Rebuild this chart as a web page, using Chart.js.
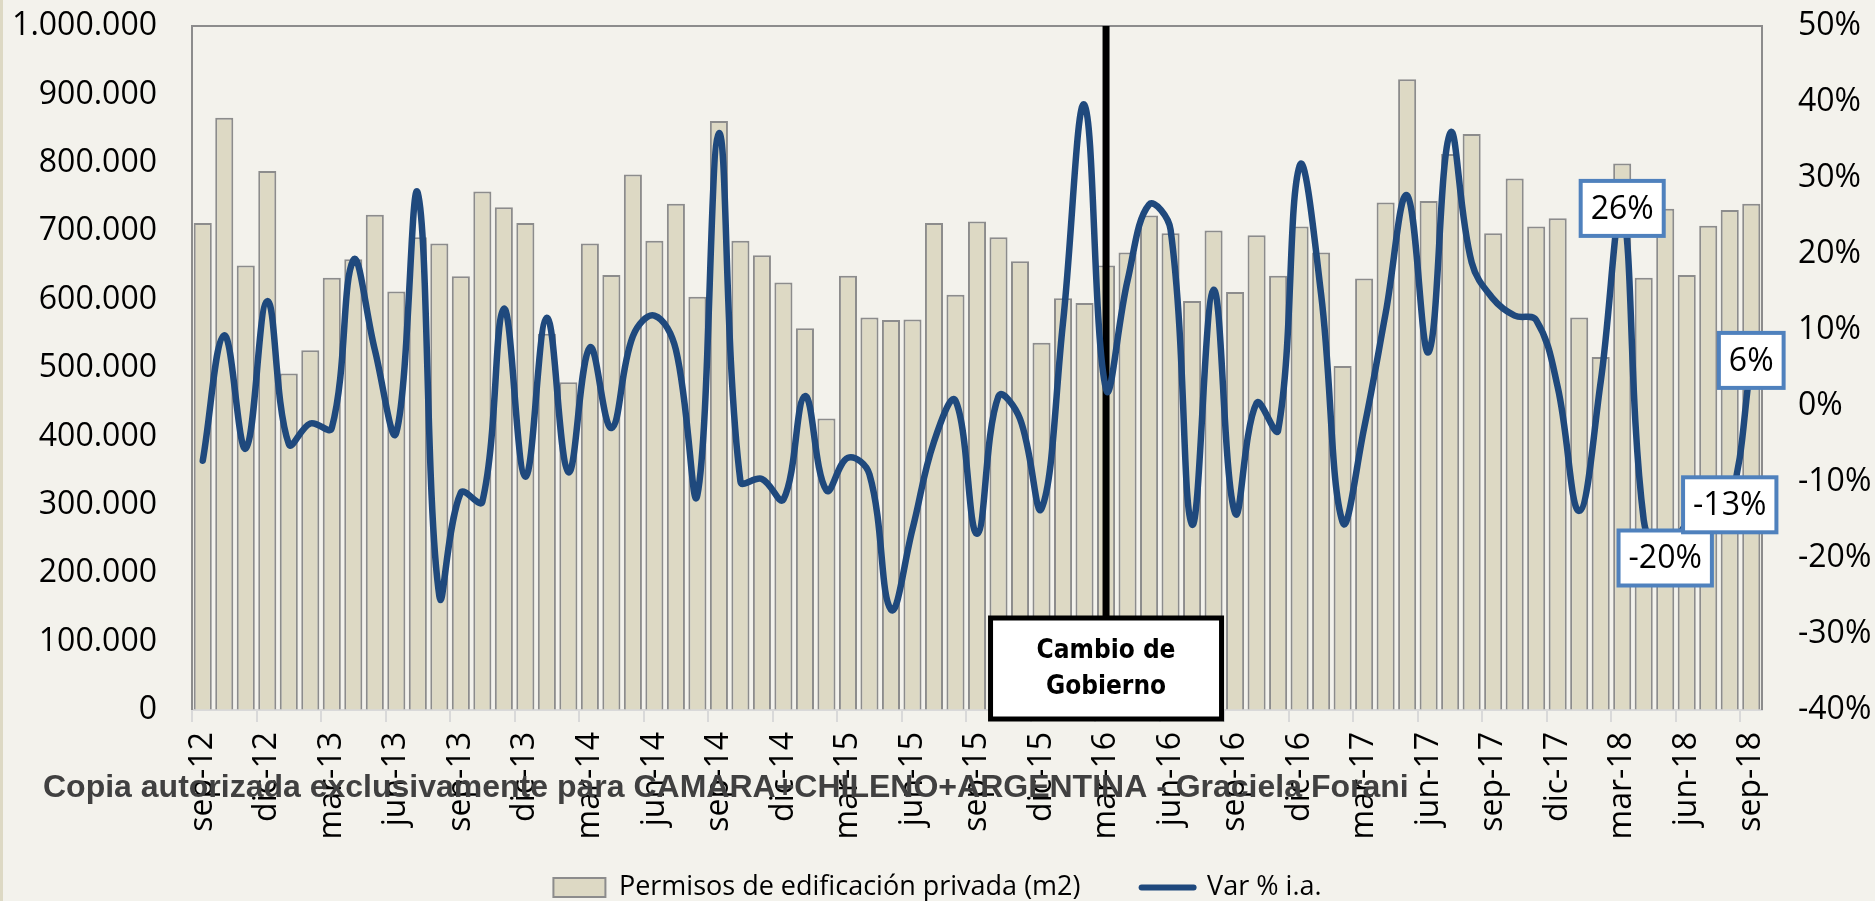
<!DOCTYPE html>
<html>
<head>
<meta charset="utf-8">
<script src="https://cdn.jsdelivr.net/npm/chart.js@4.4.0/dist/chart.umd.min.js"></script>
<style>
  html, body { margin: 0; padding: 0; background: #f3f2ec; }
</style>
</head>
<body>
<canvas id="myChart" width="1875" height="901"></canvas>
<script>
const meses = [
    'sep-12', 'oct-12', 'nov-12', 'dic-12', 'ene-13', 'feb-13', 'mar-13', 'abr-13', 'may-13', 'jun-13', 'jul-13', 'ago-13',
    'sep-13', 'oct-13', 'nov-13', 'dic-13', 'ene-14', 'feb-14', 'mar-14', 'abr-14', 'may-14', 'jun-14', 'jul-14', 'ago-14',
    'sep-14', 'oct-14', 'nov-14', 'dic-14', 'ene-15', 'feb-15', 'mar-15', 'abr-15', 'may-15', 'jun-15', 'jul-15', 'ago-15',
    'sep-15', 'oct-15', 'nov-15', 'dic-15', 'ene-16', 'feb-16', 'mar-16', 'abr-16', 'may-16', 'jun-16', 'jul-16', 'ago-16',
    'sep-16', 'oct-16', 'nov-16', 'dic-16', 'ene-17', 'feb-17', 'mar-17', 'abr-17', 'may-17', 'jun-17', 'jul-17', 'ago-17',
    'sep-17', 'oct-17', 'nov-17', 'dic-17', 'ene-18', 'feb-18', 'mar-18', 'abr-18', 'may-18', 'jun-18', 'jul-18', 'ago-18',
    'sep-18'
]

// permisos de edificacion privada, m2
const permisos = [
    712000, 866000, 650000, 788000, 492000, 526000, 632000, 659000, 724000, 612000, 691000, 682000,
    634000, 758000, 735000, 712000, 550000, 479000, 682000, 636000, 783000, 686000, 740000, 604000,
    861000, 686000, 665000, 625000, 558000, 426000, 635000, 574000, 570000, 571000, 712000, 607000,
    714000, 691000, 656000, 537000, 602000, 595000, 650000, 669000, 723000, 697000, 598000, 701000,
    611000, 694000, 635000, 707000, 669000, 503000, 631000, 742000, 922000, 744000, 813000, 842000,
    697000, 777000, 707000, 719000, 574000, 516000, 799000, 632000, 733000, 636000, 708000, 731000,
    740000
]

// var % interanual
const varIA = [
    -7.2, 9.3, -5.6, 13.8, -5.0, -2.3, -2.9, 19.2, 7.4, -3.5, 28.0, -25.0,
    -11.4, -12.6, 12.8, -9.3, 11.6, -8.7, 7.7, -2.9, 9.2, 11.9, 7.4, -11.7,
    35.9, -9.9, -9.6, -12.3, 1.3, -11.1, -6.8, -9.0, -26.8, -16.2, -4.7, 0.7,
    -16.8, 1.3, -1.7, -13.5, 11.0, 39.6, 2.2, 16.5, 26.5, 23.2, -15.6, 15.3,
    -14.1, 0.4, -3.2, 31.6, 14.7, -15.3, -2.9, 12.2, 27.7, 7.1, 35.9, 18.9,
    14.1, 11.9, 11.3, 2.5, -13.8, 3.2, 26.0, -15.0, -20.0, -15.5, -14.5, -13.0,
    6.0
]

// puntos con etiqueta de dato
const etiquetas = [66, 68, 71, 72]
const cambioIdx = 42
const cambioTexto = ['Cambio de', 'Gobierno']
const marcaAgua = 'Copia autorizada exclusivamente para CAMARA+CHILENO+ARGENTINA - Graciela Forani'

const fuente = '"Open Sans", "DejaVu Sans", sans-serif'

function miles(v) {
    return String(v).replace(/\B(?=(\d{3})+(?!\d))/g, '.')
}

const fondo = {
    id: 'fondo',
    beforeDraw(chart) {
        const ctx = chart.ctx
        ctx.save()
        ctx.fillStyle = '#f3f2ec'
        ctx.fillRect(0, 0, chart.width, chart.height)
        // franja beige del borde izquierdo
        ctx.fillStyle = '#ddd9c4'
        ctx.fillRect(0, 0, 3, chart.height)
        ctx.restore()
    }
}

const marco = {
    id: 'marco',
    beforeDatasetsDraw(chart) {
        const {ctx, chartArea: a} = chart
        ctx.save()
        ctx.strokeStyle = '#8c8c8c'
        ctx.lineWidth = 2
        ctx.beginPath()
        ctx.moveTo(a.left, a.bottom)
        ctx.lineTo(a.left, a.top)
        ctx.lineTo(a.right, a.top)
        ctx.lineTo(a.right, a.bottom)
        ctx.stroke()
        ctx.restore()
    }
}

// linea vertical "Cambio de Gobierno", debajo de la linea de variacion
const cambio = {
    id: 'cambio',
    afterDatasetDraw(chart, args) {
        if (args.index !== 0) return
        const {ctx, chartArea: a} = chart
        const x = chart.scales.x.getPixelForValue(cambioIdx)
        const w = 231, h = 101
        const top = a.bottom - 92
        ctx.save()
        ctx.strokeStyle = '#000'
        ctx.lineWidth = 7
        ctx.beginPath()
        ctx.moveTo(x, a.top)
        ctx.lineTo(x, top)
        ctx.stroke()

        ctx.fillStyle = '#fff'
        ctx.fillRect(x - w / 2, top, w, h)
        ctx.lineWidth = 5
        ctx.strokeRect(x - w / 2, top, w, h)

        ctx.fillStyle = '#000'
        ctx.font = 'bold 26px "DejaVu Sans Condensed", "DejaVu Sans", sans-serif'
        ctx.textAlign = 'center'
        ctx.textBaseline = 'middle'
        ctx.fillText(cambioTexto[0], x, top + h / 2 - 17)
        ctx.fillText(cambioTexto[1], x, top + h / 2 + 19)
        ctx.restore()
    }
}

const rotulos = {
    id: 'rotulos',
    afterDatasetsDraw(chart) {
        const ctx = chart.ctx
        const meta = chart.getDatasetMeta(1)
        ctx.save()
        ctx.font = '32px ' + fuente
        ctx.textAlign = 'center'
        ctx.textBaseline = 'middle'
        etiquetas.forEach((i) => {
            const p = meta.data[i]
            const txt = Math.round(varIA[i]) + '%'
            const w = ctx.measureText(txt).width + 20
            const h = 55
            ctx.fillStyle = '#ffffff'
            ctx.fillRect(p.x - w / 2, p.y - h / 2, w, h)
            ctx.lineWidth = 4
            ctx.strokeStyle = '#4f81bd'
            ctx.strokeRect(p.x - w / 2, p.y - h / 2, w, h)
            ctx.fillStyle = '#000'
            ctx.fillText(txt, p.x, p.y + 1)
        })
        ctx.restore()
    }
}

const agua = {
    id: 'agua',
    afterDraw(chart) {
        const ctx = chart.ctx
        ctx.save()
        ctx.font = 'bold 32px "Liberation Sans", Arial, sans-serif'
        const size = 32 * 1364 / ctx.measureText(marcaAgua).width
        ctx.font = 'bold ' + size.toFixed(1) + 'px "Liberation Sans", Arial, sans-serif'
        ctx.fillStyle = '#404040'
        ctx.textAlign = 'left'
        ctx.textBaseline = 'alphabetic'
        ctx.fillText(marcaAgua, 43, 797)
        ctx.restore()
    }
}

const ctx = document.getElementById('myChart').getContext('2d')
const chart = new Chart(ctx, {
    type: 'bar',
    data: {
        labels: meses,
        datasets: [{
            type: 'bar',
            label: 'Permisos de edificación privada (m2)',
            data: permisos,
            yAxisID: 'y',
            backgroundColor: '#ddd9c4',
            borderColor: '#8c8c8c',
            borderWidth: 2,
            barPercentage: 0.84,
            categoryPercentage: 1,
            order: 1
        }, {
            type: 'line',
            label: 'Var % i.a.',
            data: varIA,
            yAxisID: 'y1',
            borderColor: '#1f497d',
            backgroundColor: '#1f497d',
            borderWidth: 6.5,
            borderCapStyle: 'round',
            pointRadius: 0,
            tension: 0.4,
            fill: false,
            order: 0
        }]
    },
    options: {
        responsive: false,
        animation: false,
        devicePixelRatio: 1,
        layout: {
            padding: { top: 26, bottom: -10, left: 0, right: 0 }
        },
        plugins: {
            tooltip: { enabled: false },
            legend: {
                position: 'bottom',
                labels: {
                    usePointStyle: true,
                    pointStyleWidth: 52,
                    boxHeight: 19,
                    padding: 12,
                    color: '#000',
                    font: { family: fuente, size: 27 },
                    generateLabels: function (chart) {
                        return chart.data.datasets.map((ds, i) => ({
                            text: i === 0 ? ds.label + '       ' : ds.label,
                            fillStyle: ds.backgroundColor,
                            strokeStyle: ds.borderColor,
                            lineWidth: i === 0 ? 2 : 6,
                            lineCap: 'round',
                            pointStyle: i === 0 ? 'rect' : 'line',
                            hidden: false,
                            datasetIndex: i
                        }))
                    }
                }
            }
        },
        scales: {
            x: {
                offset: true,
                grid: {
                    offset: true,
                    drawOnChartArea: false,
                    drawTicks: true,
                    tickLength: 12,
                    lineWidth: 2,
                    color: (c) => (c.index % 3 === 0 ? '#d9d9d9' : 'rgba(0,0,0,0)')
                },
                border: { display: true, color: '#d9d9d9', width: 2 },
                ticks: {
                    autoSkip: false,
                    minRotation: 90,
                    maxRotation: 90,
                    padding: 10,
                    color: '#000',
                    font: { family: fuente, size: 32 },
                    callback: (v, i) => (i % 3 === 0 ? meses[i] : '')
                },
                afterFit: (s) => { s.height = 152 }
            },
            y: {
                position: 'left',
                min: 0,
                max: 1000000,
                // marcas invisibles: solo separan los numeros del eje
                grid: { display: true, drawOnChartArea: false, drawTicks: true, tickLength: 35, color: 'rgba(0,0,0,0)' },
                border: { display: false },
                ticks: {
                    stepSize: 100000,
                    padding: 0,
                    color: '#000',
                    font: { family: fuente, size: 32 },
                    callback: (v) => miles(v)
                },
                afterFit: (s) => { s.width = 192 }
            },
            y1: {
                position: 'right',
                min: -40,
                max: 50,
                grid: { display: true, drawOnChartArea: false, drawTicks: true, tickLength: 36, color: 'rgba(0,0,0,0)' },
                border: { display: false },
                ticks: {
                    stepSize: 10,
                    padding: 0,
                    color: '#000',
                    font: { family: fuente, size: 32 },
                    callback: (v) => v + '%'
                },
                afterFit: (s) => { s.width = 113 }
            }
        }
    },
    plugins: [fondo, marco, cambio, rotulos, agua]
})
</script>
</body>
</html>
